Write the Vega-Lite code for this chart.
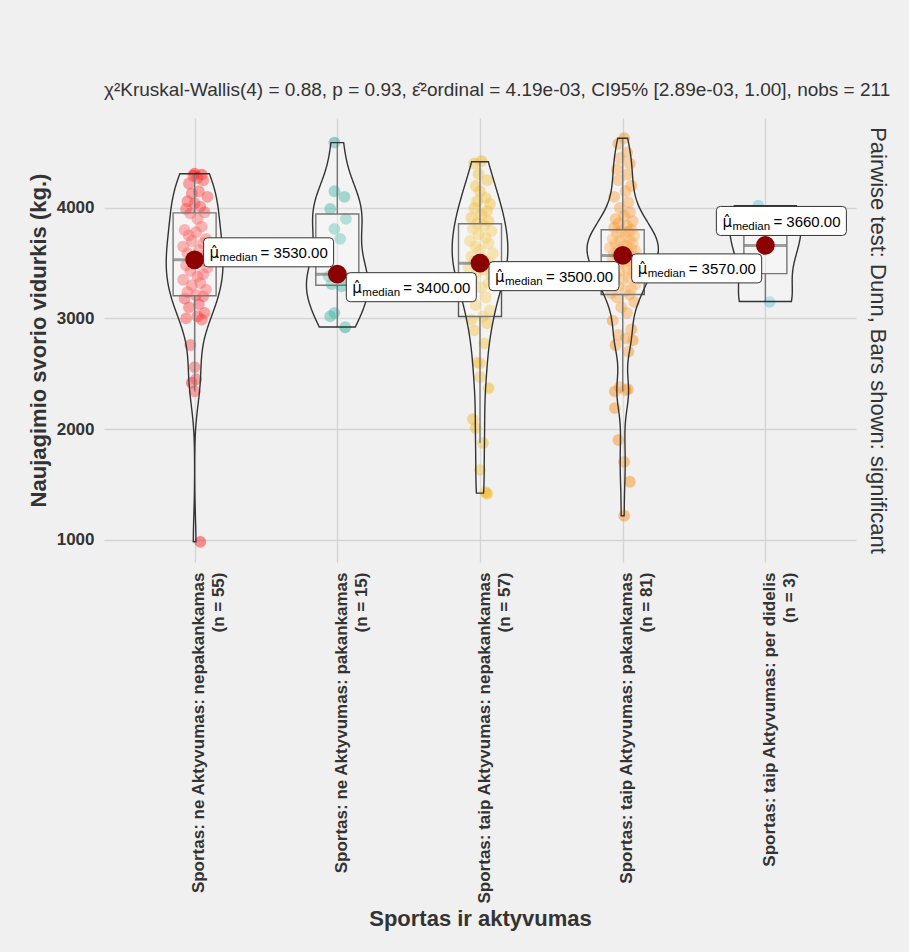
{
  "$schema": "https://vega.github.io/schema/vega-lite/v6.json",
  "width": 752,
  "height": 444,
  "autosize": {"type": "none"},
  "padding": {"left": 104, "top": 118, "right": 53, "bottom": 390},
  "background": "#f0f0f0",
  "config": {
    "view": {"stroke": null},
    "font": "Liberation Sans",
    "axis": {"labelFont": "Liberation Sans", "titleFont": "Liberation Sans"}
  },
  "title": {
    "text": "χ²Kruskal-Wallis(4) = 0.88, p = 0.93, ε̂²ordinal = 4.19e-03, CI95% [2.89e-03, 1.00], nobs = 211",
    "anchor": "start",
    "frame": "group",
    "fontSize": 19,
    "fontWeight": "normal",
    "color": "#333333",
    "offset": 18
  },
  "datasets": {
    "pts": [
      {"group": 1, "weight": 980, "jitter": 0.04}, {"group": 1, "weight": 2340, "jitter": 0.0}, {"group": 1, "weight": 2420, "jitter": -0.02},
      {"group": 1, "weight": 2450, "jitter": 0.01}, {"group": 1, "weight": 2560, "jitter": 0.0}, {"group": 1, "weight": 2760, "jitter": -0.03},
      {"group": 1, "weight": 2990, "jitter": 0.05}, {"group": 1, "weight": 3000, "jitter": -0.06}, {"group": 1, "weight": 3020, "jitter": 0.02},
      {"group": 1, "weight": 3050, "jitter": 0.07}, {"group": 1, "weight": 3100, "jitter": -0.04}, {"group": 1, "weight": 3130, "jitter": 0.03},
      {"group": 1, "weight": 3180, "jitter": -0.07}, {"group": 1, "weight": 3200, "jitter": 0.06}, {"group": 1, "weight": 3210, "jitter": 0.01},
      {"group": 1, "weight": 3240, "jitter": -0.05}, {"group": 1, "weight": 3260, "jitter": 0.08}, {"group": 1, "weight": 3300, "jitter": -0.02},
      {"group": 1, "weight": 3320, "jitter": 0.04}, {"group": 1, "weight": 3350, "jitter": -0.08}, {"group": 1, "weight": 3380, "jitter": 0.02},
      {"group": 1, "weight": 3400, "jitter": 0.06}, {"group": 1, "weight": 3430, "jitter": -0.03}, {"group": 1, "weight": 3460, "jitter": 0.09},
      {"group": 1, "weight": 3480, "jitter": -0.06}, {"group": 1, "weight": 3500, "jitter": 0.0}, {"group": 1, "weight": 3520, "jitter": 0.05},
      {"group": 1, "weight": 3530, "jitter": -0.01}, {"group": 1, "weight": 3560, "jitter": 0.07}, {"group": 1, "weight": 3590, "jitter": -0.05},
      {"group": 1, "weight": 3620, "jitter": 0.03}, {"group": 1, "weight": 3650, "jitter": -0.08}, {"group": 1, "weight": 3680, "jitter": 0.06},
      {"group": 1, "weight": 3700, "jitter": -0.02}, {"group": 1, "weight": 3720, "jitter": 0.08}, {"group": 1, "weight": 3750, "jitter": -0.04},
      {"group": 1, "weight": 3780, "jitter": 0.01}, {"group": 1, "weight": 3800, "jitter": -0.07}, {"group": 1, "weight": 3830, "jitter": 0.05},
      {"group": 1, "weight": 3900, "jitter": 0.02}, {"group": 1, "weight": 3950, "jitter": -0.03}, {"group": 1, "weight": 3960, "jitter": 0.07},
      {"group": 1, "weight": 3990, "jitter": -0.06}, {"group": 1, "weight": 4010, "jitter": 0.04}, {"group": 1, "weight": 4040, "jitter": 0.0},
      {"group": 1, "weight": 4060, "jitter": -0.05}, {"group": 1, "weight": 4100, "jitter": 0.09}, {"group": 1, "weight": 4130, "jitter": -0.02},
      {"group": 1, "weight": 4150, "jitter": 0.03}, {"group": 1, "weight": 4220, "jitter": -0.04}, {"group": 1, "weight": 4250, "jitter": 0.06},
      {"group": 1, "weight": 4270, "jitter": 0.02}, {"group": 1, "weight": 4290, "jitter": -0.01}, {"group": 1, "weight": 4300, "jitter": 0.05},
      {"group": 1, "weight": 4310, "jitter": 0.0},

      {"group": 2, "weight": 2920, "jitter": 0.055}, {"group": 2, "weight": 3020, "jitter": -0.05}, {"group": 2, "weight": 3050, "jitter": -0.02},
      {"group": 2, "weight": 3290, "jitter": 0.03}, {"group": 2, "weight": 3310, "jitter": -0.04}, {"group": 2, "weight": 3350, "jitter": 0.05},
      {"group": 2, "weight": 3380, "jitter": -0.06}, {"group": 2, "weight": 3400, "jitter": 0.02}, {"group": 2, "weight": 3720, "jitter": 0.02},
      {"group": 2, "weight": 3810, "jitter": -0.02}, {"group": 2, "weight": 3900, "jitter": 0.06}, {"group": 2, "weight": 3990, "jitter": -0.05},
      {"group": 2, "weight": 4100, "jitter": 0.05}, {"group": 2, "weight": 4150, "jitter": -0.02}, {"group": 2, "weight": 4590, "jitter": -0.02},

      {"group": 3, "weight": 1414, "jitter": 0.05}, {"group": 3, "weight": 1430, "jitter": 0.04}, {"group": 3, "weight": 1631, "jitter": 0.0},
      {"group": 3, "weight": 1874, "jitter": 0.02}, {"group": 3, "weight": 2009, "jitter": -0.03}, {"group": 3, "weight": 2090, "jitter": -0.05},
      {"group": 3, "weight": 2370, "jitter": 0.06}, {"group": 3, "weight": 2469, "jitter": 0.0}, {"group": 3, "weight": 2595, "jitter": 0.0},
      {"group": 3, "weight": 2600, "jitter": -0.02}, {"group": 3, "weight": 2775, "jitter": 0.03}, {"group": 3, "weight": 2892, "jitter": -0.04},
      {"group": 3, "weight": 2955, "jitter": 0.05}, {"group": 3, "weight": 2990, "jitter": -0.06}, {"group": 3, "weight": 3018, "jitter": 0.02},
      {"group": 3, "weight": 3072, "jitter": 0.07}, {"group": 3, "weight": 3120, "jitter": -0.03}, {"group": 3, "weight": 3189, "jitter": 0.04},
      {"group": 3, "weight": 3230, "jitter": -0.07}, {"group": 3, "weight": 3280, "jitter": 0.01}, {"group": 3, "weight": 3320, "jitter": 0.06},
      {"group": 3, "weight": 3350, "jitter": -0.05}, {"group": 3, "weight": 3390, "jitter": 0.08}, {"group": 3, "weight": 3420, "jitter": -0.02},
      {"group": 3, "weight": 3440, "jitter": 0.03}, {"group": 3, "weight": 3460, "jitter": -0.08}, {"group": 3, "weight": 3480, "jitter": 0.05},
      {"group": 3, "weight": 3490, "jitter": -0.01}, {"group": 3, "weight": 3500, "jitter": 0.07}, {"group": 3, "weight": 3520, "jitter": -0.04},
      {"group": 3, "weight": 3540, "jitter": 0.02}, {"group": 3, "weight": 3560, "jitter": -0.06}, {"group": 3, "weight": 3590, "jitter": 0.09},
      {"group": 3, "weight": 3620, "jitter": 0.0}, {"group": 3, "weight": 3650, "jitter": -0.03}, {"group": 3, "weight": 3680, "jitter": 0.06},
      {"group": 3, "weight": 3700, "jitter": -0.07}, {"group": 3, "weight": 3730, "jitter": 0.04}, {"group": 3, "weight": 3760, "jitter": -0.01},
      {"group": 3, "weight": 3790, "jitter": 0.08}, {"group": 3, "weight": 3810, "jitter": -0.05}, {"group": 3, "weight": 3840, "jitter": 0.03},
      {"group": 3, "weight": 3856, "jitter": -0.02}, {"group": 3, "weight": 3880, "jitter": 0.06}, {"group": 3, "weight": 3910, "jitter": -0.06},
      {"group": 3, "weight": 3940, "jitter": 0.01}, {"group": 3, "weight": 3973, "jitter": 0.05}, {"group": 3, "weight": 4000, "jitter": -0.04},
      {"group": 3, "weight": 4036, "jitter": 0.07}, {"group": 3, "weight": 4060, "jitter": -0.02}, {"group": 3, "weight": 4090, "jitter": 0.04},
      {"group": 3, "weight": 4150, "jitter": 0.0}, {"group": 3, "weight": 4198, "jitter": -0.03}, {"group": 3, "weight": 4250, "jitter": 0.05},
      {"group": 3, "weight": 4306, "jitter": -0.01}, {"group": 3, "weight": 4400, "jitter": -0.04}, {"group": 3, "weight": 4423, "jitter": 0.01},

      {"group": 4, "weight": 1216, "jitter": 0.01}, {"group": 4, "weight": 1523, "jitter": 0.05}, {"group": 4, "weight": 1703, "jitter": 0.01},
      {"group": 4, "weight": 1901, "jitter": -0.03}, {"group": 4, "weight": 2189, "jitter": -0.055}, {"group": 4, "weight": 2340, "jitter": -0.055},
      {"group": 4, "weight": 2350, "jitter": 0.02}, {"group": 4, "weight": 2360, "jitter": 0.035}, {"group": 4, "weight": 2378, "jitter": -0.02},
      {"group": 4, "weight": 2700, "jitter": 0.04}, {"group": 4, "weight": 2760, "jitter": -0.05}, {"group": 4, "weight": 2802, "jitter": 0.07},
      {"group": 4, "weight": 2820, "jitter": 0.02}, {"group": 4, "weight": 2850, "jitter": -0.03}, {"group": 4, "weight": 2900, "jitter": 0.06},
      {"group": 4, "weight": 2980, "jitter": -0.07}, {"group": 4, "weight": 3050, "jitter": 0.03}, {"group": 4, "weight": 3100, "jitter": -0.01},
      {"group": 4, "weight": 3150, "jitter": 0.08}, {"group": 4, "weight": 3190, "jitter": -0.04}, {"group": 4, "weight": 3216, "jitter": 0.05},
      {"group": 4, "weight": 3230, "jitter": -0.08}, {"group": 4, "weight": 3250, "jitter": 0.02}, {"group": 4, "weight": 3270, "jitter": 0.06},
      {"group": 4, "weight": 3290, "jitter": -0.03}, {"group": 4, "weight": 3310, "jitter": 0.09}, {"group": 4, "weight": 3330, "jitter": -0.06},
      {"group": 4, "weight": 3350, "jitter": 0.0}, {"group": 4, "weight": 3370, "jitter": 0.04}, {"group": 4, "weight": 3390, "jitter": -0.05},
      {"group": 4, "weight": 3410, "jitter": 0.07}, {"group": 4, "weight": 3430, "jitter": -0.02}, {"group": 4, "weight": 3450, "jitter": 0.03},
      {"group": 4, "weight": 3470, "jitter": -0.08}, {"group": 4, "weight": 3490, "jitter": 0.06}, {"group": 4, "weight": 3510, "jitter": -0.01},
      {"group": 4, "weight": 3520, "jitter": 0.05}, {"group": 4, "weight": 3540, "jitter": -0.07}, {"group": 4, "weight": 3550, "jitter": 0.02},
      {"group": 4, "weight": 3560, "jitter": 0.08}, {"group": 4, "weight": 3570, "jitter": -0.04}, {"group": 4, "weight": 3580, "jitter": 0.01},
      {"group": 4, "weight": 3590, "jitter": -0.06}, {"group": 4, "weight": 3600, "jitter": 0.04}, {"group": 4, "weight": 3610, "jitter": 0.09},
      {"group": 4, "weight": 3620, "jitter": -0.03}, {"group": 4, "weight": 3630, "jitter": 0.06}, {"group": 4, "weight": 3640, "jitter": -0.09},
      {"group": 4, "weight": 3650, "jitter": 0.0}, {"group": 4, "weight": 3660, "jitter": 0.03}, {"group": 4, "weight": 3670, "jitter": -0.05},
      {"group": 4, "weight": 3680, "jitter": 0.07}, {"group": 4, "weight": 3700, "jitter": -0.02}, {"group": 4, "weight": 3710, "jitter": 0.05},
      {"group": 4, "weight": 3720, "jitter": -0.07}, {"group": 4, "weight": 3740, "jitter": 0.02}, {"group": 4, "weight": 3750, "jitter": 0.08},
      {"group": 4, "weight": 3770, "jitter": -0.04}, {"group": 4, "weight": 3780, "jitter": 0.04}, {"group": 4, "weight": 3790, "jitter": -0.01},
      {"group": 4, "weight": 3802, "jitter": 0.06}, {"group": 4, "weight": 3820, "jitter": -0.06}, {"group": 4, "weight": 3840, "jitter": 0.03},
      {"group": 4, "weight": 3860, "jitter": -0.03}, {"group": 4, "weight": 3880, "jitter": 0.07}, {"group": 4, "weight": 3900, "jitter": -0.05},
      {"group": 4, "weight": 3930, "jitter": 0.01}, {"group": 4, "weight": 3960, "jitter": 0.05}, {"group": 4, "weight": 4000, "jitter": -0.02},
      {"group": 4, "weight": 4050, "jitter": 0.04}, {"group": 4, "weight": 4100, "jitter": -0.06}, {"group": 4, "weight": 4150, "jitter": 0.02},
      {"group": 4, "weight": 4200, "jitter": 0.06}, {"group": 4, "weight": 4250, "jitter": -0.03}, {"group": 4, "weight": 4300, "jitter": 0.03},
      {"group": 4, "weight": 4350, "jitter": -0.04}, {"group": 4, "weight": 4400, "jitter": 0.05}, {"group": 4, "weight": 4450, "jitter": -0.02},
      {"group": 4, "weight": 4500, "jitter": 0.03}, {"group": 4, "weight": 4580, "jitter": -0.03}, {"group": 4, "weight": 4630, "jitter": 0.01},

      {"group": 5, "weight": 3150, "jitter": 0.03}, {"group": 5, "weight": 3660, "jitter": 0.0}, {"group": 5, "weight": 4020, "jitter": -0.05}
    ],
    "med": [
      {"group": 1, "median": 3530},
      {"group": 2, "median": 3400},
      {"group": 3, "median": 3500},
      {"group": 4, "median": 3570},
      {"group": 5, "median": 3660}
    ]
  },
  "resolve": {"axis": {"x": "independent", "y": "independent"}},
  "layer": [
    {
      "data": {"name": "pts"},
      "transform": [{"calculate": "datum.group + datum.jitter", "as": "xj"}],
      "mark": {"type": "circle", "size": 140, "opacity": 0.42},
      "encoding": {
        "x": {"field": "xj", "type": "quantitative",
              "scale": {"domain": [0.4, 5.6], "nice": false, "zero": false},
              "axis": {"title": "Sportas ir aktyvumas", "values": [1, 2, 3, 4, 5],
                       "labelExpr": "[['Sportas: ne Aktyvumas: nepakankamas', '(n = 55)'], ['Sportas: ne Aktyvumas: pakankamas', '(n = 15)'], ['Sportas: taip Aktyvumas: nepakankamas', '(n = 57)'], ['Sportas: taip Aktyvumas: pakankamas', '(n = 81)'], ['Sportas: taip Aktyvumas: per didelis', '(n = 3)']][datum.value - 1]",
                       "labelAngle": 270, "labelAlign": "right", "labelBaseline": "top",
                       "labelFontSize": 17, "labelFontWeight": "bold", "labelColor": "#333333",
                       "labelLineHeight": 20, "labelPadding": 10, "labelOffset": -4, "labelOverlap": false,
                       "labelFlush": false, "labelBound": false, "labelLimit": 500,
                       "ticks": false, "domain": false, "grid": true,
                       "gridColor": "#d4d4d4", "gridWidth": 1.4,
                       "titleFontSize": 22, "titleFontWeight": "bold", "titleColor": "#333333",
                       "titlePadding": 146}},
        "y": {"field": "weight", "type": "quantitative",
              "scale": {"domain": [797.5, 4812.5], "nice": false, "zero": false},
              "axis": {"title": "Naujagimio svorio vidurkis (kg.)", "values": [1000, 2000, 3000, 4000], "format": "d",
                       "labelFontSize": 17, "labelFontWeight": "bold", "labelColor": "#333333",
                       "labelPadding": 10, "ticks": false, "domain": false, "grid": true,
                       "gridColor": "#d4d4d4", "gridWidth": 1.4,
                       "titleFontSize": 22, "titleFontWeight": "bold", "titleColor": "#333333",
                       "titlePadding": 6}},
        "color": {"field": "group", "type": "nominal", "legend": null,
                  "scale": {"domain": [1, 2, 3, 4, 5],
                            "range": ["#FF0000", "#00A08A", "#F2AD00", "#F98400", "#5BBCD6"]}}
      }
    },
    {
      "data": {"name": "pts"},
      "mark": {"type": "boxplot", "orient": "vertical", "size": 43, "extent": 1.5,
               "ticks": false, "outliers": false,
               "box": {"fill": "white", "fillOpacity": 0.2, "stroke": "#555555", "strokeWidth": 1.4},
               "median": {"color": "#555555", "thickness": 3},
               "rule": {"color": "#555555", "strokeWidth": 1.4}},
      "encoding": {
        "x": {"field": "group", "type": "quantitative", "axis": null},
        "y": {"field": "weight", "type": "quantitative", "aggregate": "boxplot", "axis": null}
      }
    },
    {
      "data": {"name": "pts"},
      "transform": [
        {"filter": "datum.group != 4"},
        {"joinaggregate": [{"op": "min", "field": "weight", "as": "wmin"}, {"op": "max", "field": "weight", "as": "wmax"}], "groupby": ["group"]},
        {"density": "weight", "groupby": ["group", "wmin", "wmax"], "bandwidth": 235, "steps": 500, "as": ["value", "density"]},
        {"filter": "datum.value >= datum.wmin && datum.value <= datum.wmax"},
        {"joinaggregate": [{"op": "max", "field": "density", "as": "dmax"}]},
        {"calculate": "datum.group - 0.25 * datum.density / datum.dmax", "as": "left"},
        {"calculate": "datum.group + 0.25 * datum.density / datum.dmax", "as": "right"}
      ],
      "mark": {"type": "area", "orient": "horizontal", "fill": "white", "fillOpacity": 0.2,
               "stroke": "#333333", "strokeWidth": 1.4},
      "encoding": {
        "detail": {"field": "group"},
        "x": {"field": "left", "type": "quantitative", "stack": null, "axis": null},
        "x2": {"field": "right"},
        "y": {"field": "value", "type": "quantitative", "axis": null}
      }
    },
    {
      "data": {"name": "pts"},
      "transform": [
        {"filter": "datum.group == 4"},
        {"joinaggregate": [{"op": "min", "field": "weight", "as": "wmin"}, {"op": "max", "field": "weight", "as": "wmax"}], "groupby": ["group"]},
        {"density": "weight", "groupby": ["group", "wmin", "wmax"], "bandwidth": 163, "steps": 500, "as": ["value", "density"]},
        {"filter": "datum.value >= datum.wmin && datum.value <= datum.wmax"},
        {"joinaggregate": [{"op": "max", "field": "density", "as": "dmax"}]},
        {"calculate": "datum.group - 0.25 * datum.density / datum.dmax", "as": "left"},
        {"calculate": "datum.group + 0.25 * datum.density / datum.dmax", "as": "right"}
      ],
      "mark": {"type": "area", "orient": "horizontal", "fill": "white", "fillOpacity": 0.2,
               "stroke": "#333333", "strokeWidth": 1.4},
      "encoding": {
        "detail": {"field": "group"},
        "x": {"field": "left", "type": "quantitative", "stack": null, "axis": null},
        "x2": {"field": "right"},
        "y": {"field": "value", "type": "quantitative", "axis": null}
      }
    },
    {
      "data": {"name": "med"},
      "mark": {"type": "circle", "size": 350, "color": "#8B0000", "opacity": 1},
      "encoding": {
        "x": {"field": "group", "type": "quantitative", "axis": null},
        "y": {"field": "median", "type": "quantitative",
              "axis": {"orient": "right", "title": "Pairwise test: Dunn, Bars shown: significant",
                       "labels": false, "ticks": false, "domain": false, "grid": false,
                       "titleAngle": 90, "titleFontSize": 22, "titleFontWeight": "normal",
                       "titleColor": "#333333", "titlePadding": 9}}
      }
    },
    {
      "data": {"name": "med"},
      "transform": [
        {"filter": "datum.group >= 2 && datum.group <= 4"},
        {"calculate": "'= ' + format(datum.median, '.2f')", "as": "lab"}
      ],
      "encoding": {
        "x": {"field": "group", "type": "quantitative", "axis": null},
        "y": {"field": "median", "type": "quantitative", "axis": null}
      },
      "layer": [
        {"mark": {"type": "point", "filled": true, "fill": "white", "stroke": "#333333", "strokeWidth": 1, "opacity": 1, "size": 10000,
                  "shape": "M 0.26 -0.03 H 2.70 Q 2.78 -0.03 2.78 0.05 V 0.47 Q 2.78 0.55 2.70 0.55 H 0.26 Q 0.18 0.55 0.18 0.47 V 0.05 Q 0.18 -0.03 0.26 -0.03 Z"}},
        {"mark": {"type": "text", "align": "left", "baseline": "alphabetic", "dx": 15, "dy": 18.5, "fontSize": 15, "font": "DejaVu Sans", "color": "black"},
         "encoding": {"text": {"value": "μ̂"}}},
        {"mark": {"type": "text", "align": "left", "baseline": "alphabetic", "dx": 25, "dy": 22, "fontSize": 11.5, "color": "black"},
         "encoding": {"text": {"value": "median"}}},
        {"mark": {"type": "text", "align": "left", "baseline": "alphabetic", "dx": 66, "dy": 18.5, "fontSize": 15, "color": "black"},
         "encoding": {"text": {"field": "lab"}}}
      ]
    },
    {
      "data": {"name": "med"},
      "transform": [
        {"filter": "datum.group == 1"},
        {"calculate": "'= ' + format(datum.median, '.2f')", "as": "lab"}
      ],
      "encoding": {
        "x": {"field": "group", "type": "quantitative", "axis": null},
        "y": {"field": "median", "type": "quantitative", "axis": null}
      },
      "layer": [
        {"mark": {"type": "point", "filled": true, "fill": "white", "stroke": "#333333", "strokeWidth": 1, "opacity": 1, "size": 10000,
                  "shape": "M 0.26 -0.44 H 2.70 Q 2.78 -0.44 2.78 -0.36 V 0.06 Q 2.78 0.14 2.70 0.14 H 0.26 Q 0.18 0.14 0.18 0.06 V -0.36 Q 0.18 -0.44 0.26 -0.44 Z"}},
        {"mark": {"type": "text", "align": "left", "baseline": "alphabetic", "dx": 15, "dy": -2, "fontSize": 15, "font": "DejaVu Sans", "color": "black"},
         "encoding": {"text": {"value": "μ̂"}}},
        {"mark": {"type": "text", "align": "left", "baseline": "alphabetic", "dx": 25, "dy": 1.5, "fontSize": 11.5, "color": "black"},
         "encoding": {"text": {"value": "median"}}},
        {"mark": {"type": "text", "align": "left", "baseline": "alphabetic", "dx": 66, "dy": -2, "fontSize": 15, "color": "black"},
         "encoding": {"text": {"field": "lab"}}}
      ]
    },
    {
      "data": {"name": "med"},
      "transform": [
        {"filter": "datum.group == 5"},
        {"calculate": "'= ' + format(datum.median, '.2f')", "as": "lab"}
      ],
      "encoding": {
        "x": {"field": "group", "type": "quantitative", "axis": null},
        "y": {"field": "median", "type": "quantitative", "axis": null}
      },
      "layer": [
        {"mark": {"type": "point", "filled": true, "fill": "white", "stroke": "#333333", "strokeWidth": 1, "opacity": 1, "size": 10000,
                  "shape": "M -0.90 -0.78 H 1.54 Q 1.62 -0.78 1.62 -0.70 V -0.28 Q 1.62 -0.20 1.54 -0.20 H -0.90 Q -0.98 -0.20 -0.98 -0.28 V -0.70 Q -0.98 -0.78 -0.90 -0.78 Z"}},
        {"mark": {"type": "text", "align": "left", "baseline": "alphabetic", "dx": -43, "dy": -18.5, "fontSize": 15, "font": "DejaVu Sans", "color": "black"},
         "encoding": {"text": {"value": "μ̂"}}},
        {"mark": {"type": "text", "align": "left", "baseline": "alphabetic", "dx": -33, "dy": -15, "fontSize": 11.5, "color": "black"},
         "encoding": {"text": {"value": "median"}}},
        {"mark": {"type": "text", "align": "left", "baseline": "alphabetic", "dx": 8, "dy": -18.5, "fontSize": 15, "color": "black"},
         "encoding": {"text": {"field": "lab"}}}
      ]
    }
  ]
}
